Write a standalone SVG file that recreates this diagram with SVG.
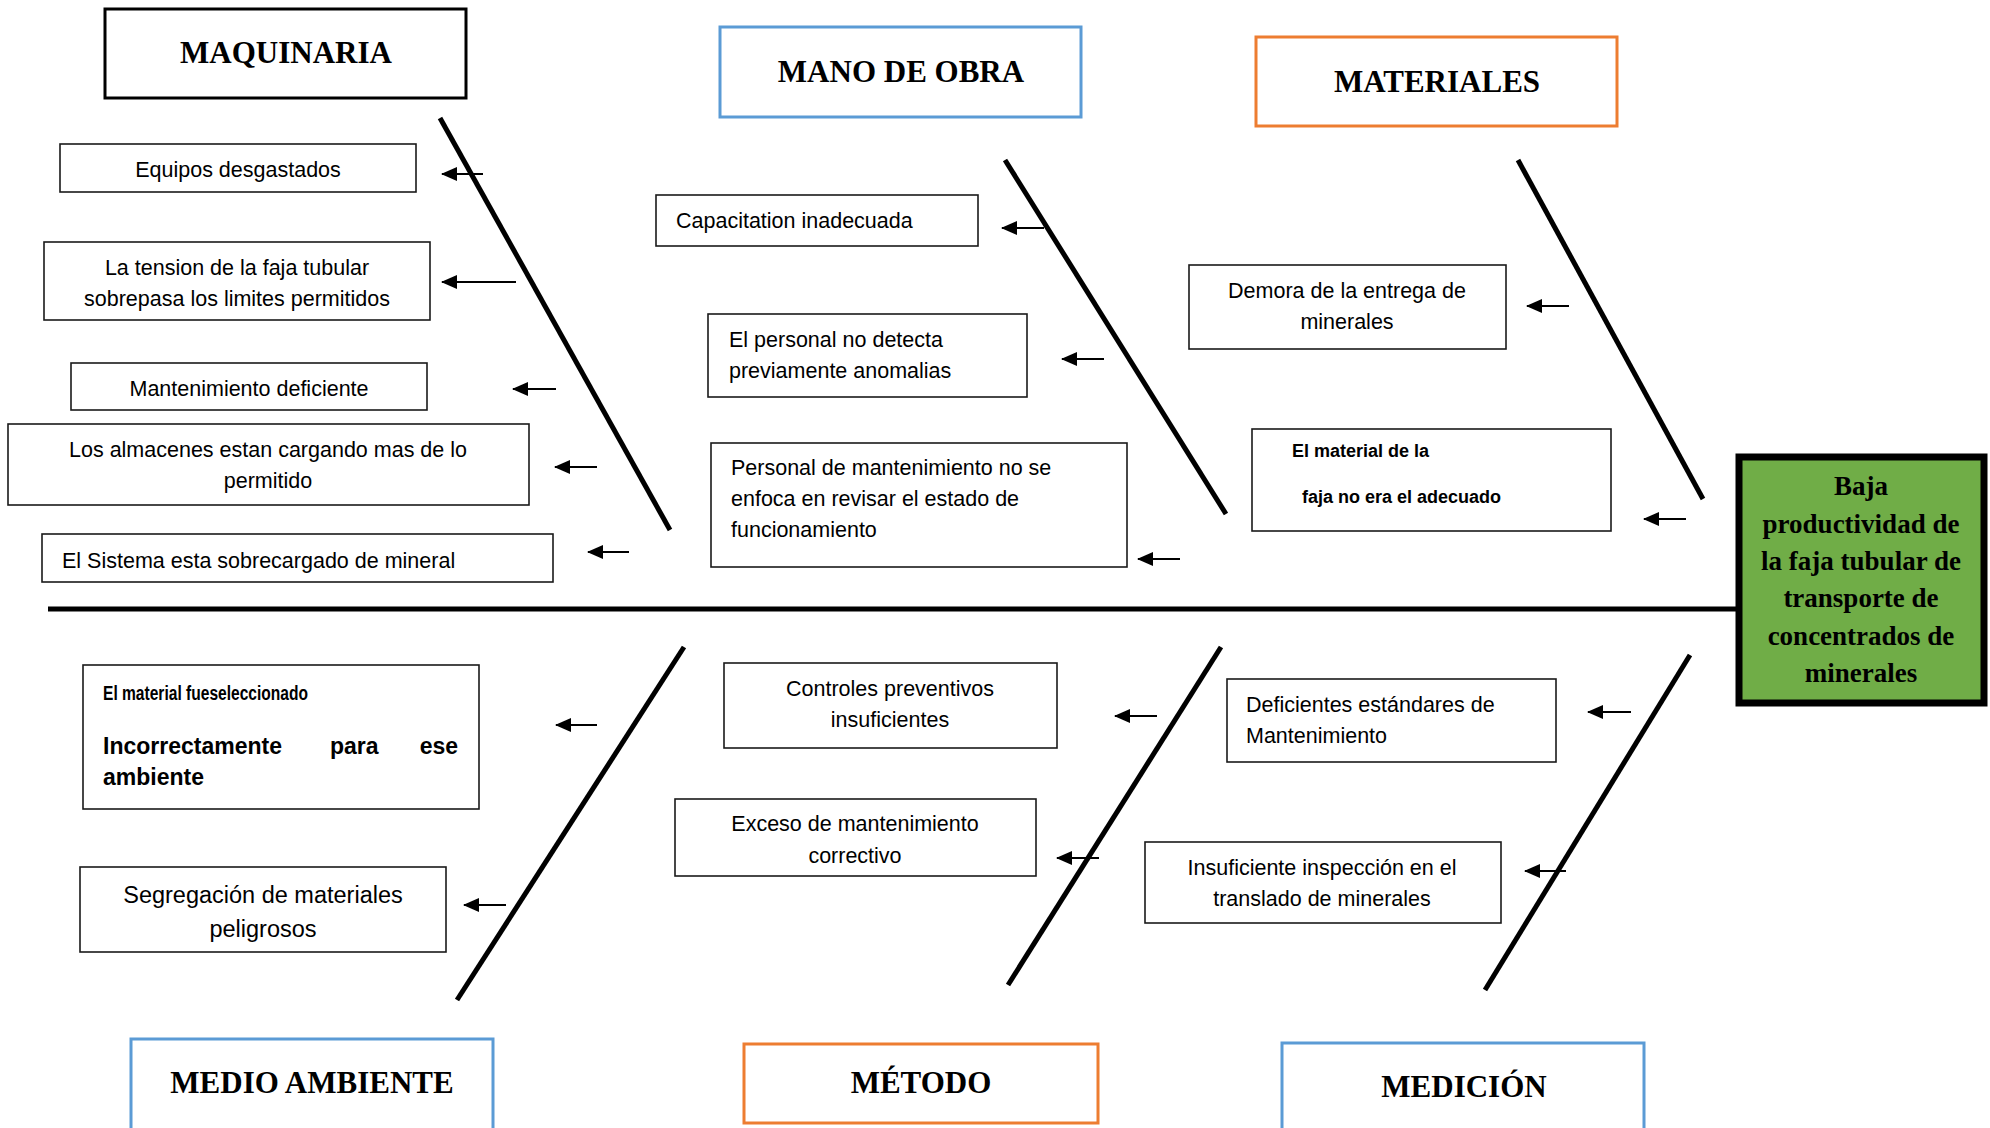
<svg xmlns="http://www.w3.org/2000/svg" width="1990" height="1128" viewBox="0 0 1990 1128">
<defs>
<marker id="ah" markerUnits="userSpaceOnUse" markerWidth="16" markerHeight="14" refX="15" refY="7" orient="auto">
<path d="M0,0 L16,7 L0,14 z" fill="#000"/>
</marker>
<style>
.hdr{font-family:"Liberation Serif","Times New Roman",serif;font-weight:bold;font-size:31px;fill:#000;text-anchor:middle}
.cause{fill:#fff;stroke:#1a1a1a;stroke-width:1.6}
.t{font-family:"Liberation Sans",Arial,sans-serif;font-size:21.5px;fill:#000}
.c{text-anchor:middle}
.b{font-weight:bold}
.bone{stroke:#000;stroke-width:5;fill:none}
.arr{stroke:#000;stroke-width:2;fill:none;marker-end:url(#ah)}
.eff{font-family:"Liberation Serif","Times New Roman",serif;font-weight:bold;font-size:27px;fill:#000;text-anchor:middle}
</style>
</defs>
<rect width="1990" height="1128" fill="#fff"/>

<g id="connectors">
<line class="bone" x1="48" y1="609" x2="1738" y2="609"/>
<line class="bone" x1="440" y1="118" x2="670" y2="530"/>
<line class="bone" x1="1005" y1="160" x2="1226" y2="514"/>
<line class="bone" x1="1518" y1="160" x2="1703" y2="499"/>
<line class="bone" x1="684" y1="647" x2="457" y2="1000"/>
<line class="bone" x1="1221" y1="647" x2="1008" y2="985"/>
<line class="bone" x1="1690" y1="655" x2="1485" y2="990"/>
<line class="arr" x1="483" y1="174" x2="442" y2="174"/>
<line class="arr" x1="516" y1="282" x2="442" y2="282"/>
<line class="arr" x1="556" y1="389" x2="513" y2="389"/>
<line class="arr" x1="597" y1="467" x2="555" y2="467"/>
<line class="arr" x1="629" y1="552" x2="588" y2="552"/>
<line class="arr" x1="1044" y1="228" x2="1002" y2="228"/>
<line class="arr" x1="1104" y1="359" x2="1062" y2="359"/>
<line class="arr" x1="1180" y1="559" x2="1138" y2="559"/>
<line class="arr" x1="1569" y1="306" x2="1527" y2="306"/>
<line class="arr" x1="1686" y1="519" x2="1644" y2="519"/>
<line class="arr" x1="597" y1="725" x2="556" y2="725"/>
<line class="arr" x1="506" y1="905" x2="464" y2="905"/>
<line class="arr" x1="1157" y1="716" x2="1115" y2="716"/>
<line class="arr" x1="1099" y1="858" x2="1057" y2="858"/>
<line class="arr" x1="1631" y1="712" x2="1588" y2="712"/>
<line class="arr" x1="1566" y1="871" x2="1525" y2="871"/>
</g>

<g id="maquinaria">
<rect x="105" y="9" width="361" height="89" fill="#fff" stroke="#000" stroke-width="3"/>
<text class="hdr" x="286" y="63">MAQUINARIA</text>
</g>
<g id="mano-de-obra">
<rect x="720" y="27" width="361" height="90" fill="#fff" stroke="#5B9BD5" stroke-width="3"/>
<text class="hdr" x="901" y="82">MANO DE OBRA</text>
</g>
<g id="materiales">
<rect x="1256" y="37" width="361" height="89" fill="#fff" stroke="#ED7D31" stroke-width="3"/>
<text class="hdr" x="1437" y="92">MATERIALES</text>
</g>
<g id="medio-ambiente">
<rect x="131" y="1039" width="362" height="92" fill="#fff" stroke="#5B9BD5" stroke-width="3"/>
<text class="hdr" x="312" y="1093">MEDIO AMBIENTE</text>
</g>
<g id="metodo">
<rect x="744" y="1044" width="354" height="79" fill="#fff" stroke="#ED7D31" stroke-width="3"/>
<text class="hdr" x="921" y="1093">MÉTODO</text>
</g>
<g id="medicion">
<rect x="1282" y="1043" width="362" height="90" fill="#fff" stroke="#5B9BD5" stroke-width="3"/>
<text class="hdr" x="1464" y="1097">MEDICIÓN</text>
</g>

<g id="efecto">
<rect x="1739" y="457" width="245" height="246" fill="#70AD47" stroke="#000" stroke-width="7"/>
<text class="eff" x="1861" y="495">Baja</text>
<text class="eff" x="1861" y="533">productividad de</text>
<text class="eff" x="1861" y="570">la faja tubular de</text>
<text class="eff" x="1861" y="607">transporte de</text>
<text class="eff" x="1861" y="645">concentrados de</text>
<text class="eff" x="1861" y="682">minerales</text>
</g>

<g id="c-equipos">
<rect class="cause" x="60" y="144" width="356" height="48"/>
<text class="t c" x="238" y="177">Equipos desgastados</text>
</g>
<g id="c-tension">
<rect class="cause" x="44" y="242" width="386" height="78"/>
<text class="t c" x="237" y="275">La tension de la faja tubular</text>
<text class="t c" x="237" y="306">sobrepasa los limites permitidos</text>
</g>
<g id="c-mantenimiento">
<rect class="cause" x="71" y="363" width="356" height="47"/>
<text class="t c" x="249" y="396">Mantenimiento deficiente</text>
</g>
<g id="c-almacenes">
<rect class="cause" x="8" y="424" width="521" height="81"/>
<text class="t c" x="268" y="457">Los almacenes estan cargando mas de lo</text>
<text class="t c" x="268" y="488">permitido</text>
</g>
<g id="c-sistema">
<rect class="cause" x="42" y="534" width="511" height="48"/>
<text class="t" x="62" y="568">El Sistema esta sobrecargado de mineral</text>
</g>

<g id="c-capacitation">
<rect class="cause" x="656" y="195" width="322" height="51"/>
<text class="t" x="676" y="228">Capacitation inadecuada</text>
</g>
<g id="c-personal">
<rect class="cause" x="708" y="314" width="319" height="83"/>
<text class="t" x="729" y="347">El personal no detecta</text>
<text class="t" x="729" y="378">previamente anomalias</text>
</g>
<g id="c-personal-mant">
<rect class="cause" x="711" y="443" width="416" height="124"/>
<text class="t" x="731" y="475">Personal de mantenimiento no se</text>
<text class="t" x="731" y="506">enfoca en revisar el estado de</text>
<text class="t" x="731" y="537">funcionamiento</text>
</g>

<g id="c-demora">
<rect class="cause" x="1189" y="265" width="317" height="84"/>
<text class="t c" x="1347" y="298">Demora de la entrega de</text>
<text class="t c" x="1347" y="329">minerales</text>
</g>
<g id="c-material-faja">
<rect class="cause" x="1252" y="429" width="359" height="102"/>
<text class="t b" x="1292" y="457" style="font-size:18px">El material de la</text>
<text class="t b" x="1302" y="503" style="font-size:18px">faja no era el adecuado</text>
</g>

<g id="c-material-sel">
<rect class="cause" x="83" y="665" width="396" height="144"/>
<text class="t b" x="103" y="700" style="font-size:20px" textLength="205" lengthAdjust="spacingAndGlyphs">El material fueseleccionado</text>
<text class="t b" x="103" y="754" style="font-size:23px">Incorrectamente</text>
<text class="t b" x="330" y="754" style="font-size:23px">para</text>
<text class="t b" x="458" y="754" style="font-size:23px;text-anchor:end">ese</text>
<text class="t b" x="103" y="785" style="font-size:23px">ambiente</text>
</g>
<g id="c-segregacion">
<rect class="cause" x="80" y="867" width="366" height="85"/>
<text class="t c" x="263" y="903" style="font-size:23.5px">Segregación de materiales</text>
<text class="t c" x="263" y="937" style="font-size:23.5px">peligrosos</text>
</g>

<g id="c-controles">
<rect class="cause" x="724" y="663" width="333" height="85"/>
<text class="t c" x="890" y="696">Controles preventivos</text>
<text class="t c" x="890" y="727">insuficientes</text>
</g>
<g id="c-exceso">
<rect class="cause" x="675" y="799" width="361" height="77"/>
<text class="t c" x="855" y="831">Exceso de mantenimiento</text>
<text class="t c" x="855" y="863">correctivo</text>
</g>

<g id="c-deficientes">
<rect class="cause" x="1227" y="679" width="329" height="83"/>
<text class="t" x="1246" y="712">Deficientes estándares de</text>
<text class="t" x="1246" y="743">Mantenimiento</text>
</g>
<g id="c-insuficiente">
<rect class="cause" x="1145" y="842" width="356" height="81"/>
<text class="t c" x="1322" y="875">Insuficiente inspección en el</text>
<text class="t c" x="1322" y="906">translado de minerales</text>
</g>
</svg>
